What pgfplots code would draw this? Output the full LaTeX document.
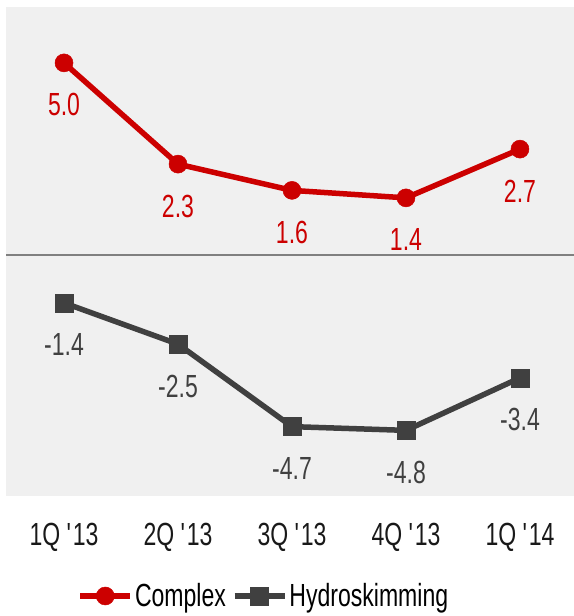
\documentclass[border=0pt]{standalone}
\usepackage{pgfplots}
\pgfplotsset{compat=1.18}
\usepackage{fontspec}
\setmainfont{Liberation Sans}[FakeStretch=0.72]
\definecolor{cred}{HTML}{CC0000}
\definecolor{cdark}{HTML}{404040}
\definecolor{cbg}{HTML}{F0F0F0}
\definecolor{czero}{HTML}{808080}
\begin{document}
\begin{tikzpicture}[font=\fontsize{32bp}{36bp}\selectfont]
\useasboundingbox (-6bp,-120bp) rectangle (568bp,496bp);
\begin{axis}[
  at={(0,0)}, anchor=south west,
  scale only axis, width=568bp, height=489bp,
  xmin=-0.509, xmax=4.474, ymin=-6.55, ymax=6.49,
  axis line style={draw=none},
  tick style={draw=none},
  ytick=\empty,
  xtick={0,1,2,3,4},
  xticklabels={{1Q \textquotesingle13},{2Q \textquotesingle13},{3Q \textquotesingle13},{4Q \textquotesingle13},{1Q \textquotesingle14}},
  xticklabel style={yshift=-24bp, text=black!90},
  axis background/.style={fill=cbg},
  clip=false,
  legend columns=2,
  legend style={at={(0.454,-0.2045)}, anchor=center, draw=none, fill=none,
    /tikz/every even column/.append style={column sep=4bp},
    nodes={inner sep=2bp}},
  legend image code/.code={\draw[mark repeat=2,mark phase=2] plot coordinates {(0bp,0bp)(25bp,0bp)(50bp,0bp)};},
  nodes near coords={\pgfmathprintnumber[fixed,fixed zerofill,precision=1,assume math mode=true]{\pgfplotspointmeta}},
  point meta=y,
  every node near coord/.append style={anchor=center, yshift=-42bp},
]
\draw[czero, line width=2bp] (axis cs:-0.509,-0.12) -- (axis cs:4.474,-0.12);
\addplot[cred, line width=5.5bp, mark=*, mark size=9bp, mark options={solid, line width=0.5bp},
  every node near coord/.append style={text=cred}]
  coordinates {(0,5.0)(1,2.3)(2,1.6)(3,1.4)(4,2.7)};
\addlegendentry{Complex}
\addplot[cdark, line width=5.5bp, mark=square*, mark size=9bp, mark options={solid, line width=0.5bp},
  every node near coord/.append style={text=cdark}]
  coordinates {(0,-1.4)(1,-2.5)(2,-4.7)(3,-4.8)(4,-3.4)};
\addlegendentry{Hydroskimming}
\end{axis}
\end{tikzpicture}
\end{document}
